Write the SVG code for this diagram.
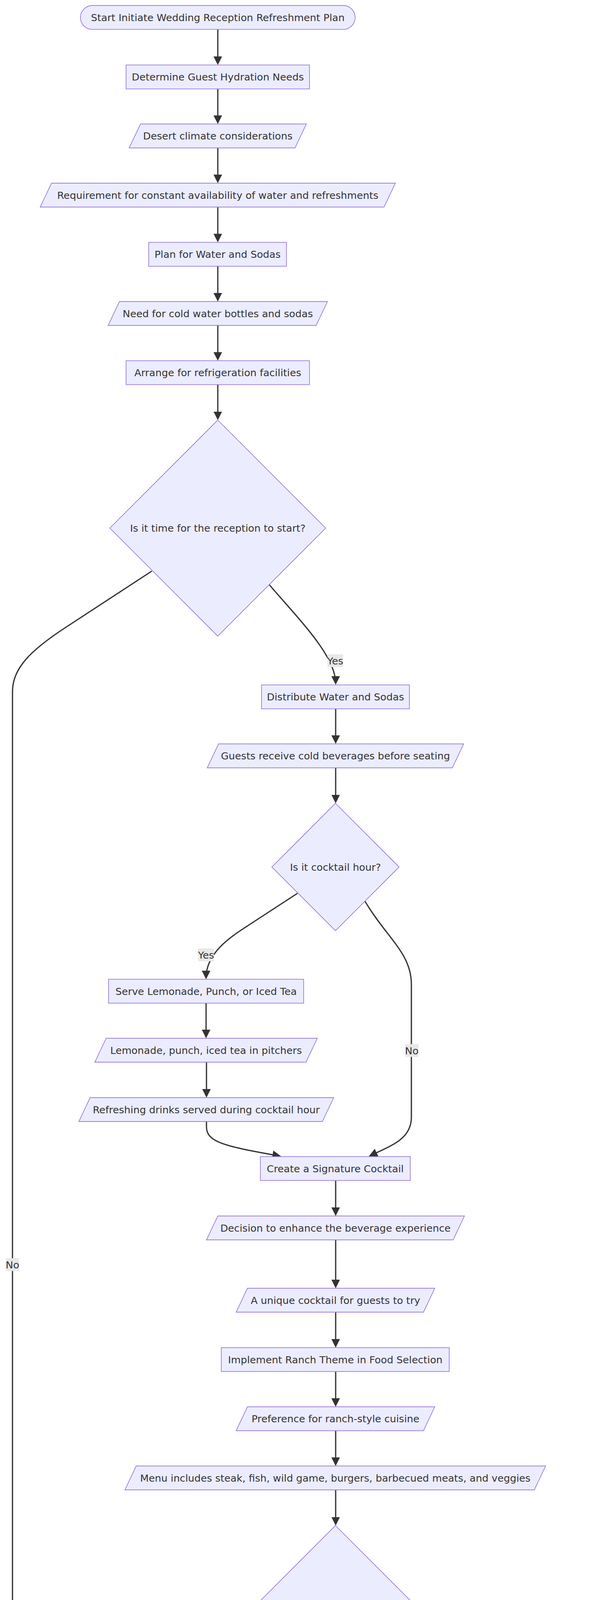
<svg xmlns="http://www.w3.org/2000/svg" width="1568" height="6904" viewBox="0 0 1568 6904">
<style>
.n{fill:#ECECFF;stroke:#9370DB;stroke-width:1.6}
.t{font-family:"DejaVu Sans",Verdana,sans-serif;font-size:25.6px;fill:#333333;text-anchor:middle}
.e{fill:none;stroke:#333333;stroke-width:3.2;marker-end:url(#arr)}
.lb{fill:#e8e8e8}
</style>
<defs>
<marker id="arr" viewBox="0 0 10 10" refX="8.18" refY="5" markerWidth="22" markerHeight="22" markerUnits="userSpaceOnUse" orient="auto">
<path d="M0,0 L10,5 L0,10 z" fill="#333333"/>
</marker>
</defs>
<rect width="1568" height="6904" fill="#ffffff"/>

<g id="connectors">
<path class="e" d="M558,75.3 L558,162.4"/>
<path class="e" d="M558,227.6 L558,313.4"/>
<path class="e" d="M558,378.6 L558,464.9"/>
<path class="e" d="M558,530.1 L558,616.4"/>
<path class="e" d="M558,681.6 L558,767.9"/>
<path class="e" d="M558,833.1 L558,919.4"/>
<path class="e" d="M558,984.6 L558,1071.5"/>
<path class="e" d="M690,1497 C770,1590 860,1680 860,1749"/>
<path class="e" d="M389,1462 L167,1607 C80,1664 32,1710 32,1770 L32,4965 C32,5040 120,5055 341,5089.4"/>
<path class="e" d="M860,1814.6 L860,1900.4"/>
<path class="e" d="M860,1965.6 L860,2052.5"/>
<path class="e" d="M762,2287 L630,2373 C590,2399 528,2440 528,2502.9"/>
<path class="e" d="M935,2307 C990,2400 1054,2440 1054,2520 L1054,2860 C1054,2915 1005,2932 948.6,2958.3"/>
<path class="e" d="M528,2568.1 L528,2653.9"/>
<path class="e" d="M529,2719.1 L529,2805.9"/>
<path class="e" d="M529,2871.1 L529,2885 C529,2925 580,2935 716,2959.3"/>
<path class="e" d="M860,3022.1 L860,3108.9"/>
<path class="e" d="M860,3174.1 L860,3293.9"/>
<path class="e" d="M860,3359.1 L860,3445.9"/>
<path class="e" d="M860,3511.1 L860,3597.4"/>
<path class="e" d="M860,3662.6 L860,3748.9"/>
<path class="e" d="M860,3814.1 L860,3901.5"/>
<path class="e" d="M711,4362 L600,4480 C560,4523 508,4570 508,4631.4"/>
<path class="e" d="M1008,4362 L1120,4480 C1160,4523 1211,4570 1211,4631.4"/>
<path class="e" d="M1211,4696.6 L1211,4782.4"/>
<path class="e" d="M1211,4847.6 L1211,4933.7"/>
<path class="e" d="M1211,4998.9 L1211,5005 C1211,5050 1100,5060 829,5089.6"/>
<path class="e" d="M558,5151.6 L558,5237.9"/>
<path class="e" d="M558,5303.1 L558,5389.4"/>
<path class="e" d="M558,5454.6 L558,5540.9"/>
<path class="e" d="M558,5606.1 L558,5692.4"/>
<path class="e" d="M558,5757.6 L558,5843.9"/>
<path class="e" d="M558,5909.1 L558,5995.4"/>
<path class="e" d="M558,6060.6 L558,6146.9"/>
<path class="e" d="M558,6212.1 L558,6298.4"/>
<path class="e" d="M558,6363.6 L558,6449.9"/>
<path class="e" d="M558,6515.1 L558,6601.9"/>
<path class="e" d="M558,6667.1 L558,6753.4"/>
</g>

<g id="edge-labels">
<g id="lbl-d1-yes"><rect class="lb" x="839" y="1675" width="40" height="32.7"/><text class="t" x="859" y="1700.5">Yes</text></g>
<g id="lbl-d1-no"><rect class="lb" x="15" y="3221" width="34" height="32.7"/><text class="t" x="32" y="3246.5">No</text></g>
<g id="lbl-d2-yes"><rect class="lb" x="508" y="2428" width="40" height="32.7"/><text class="t" x="528" y="2453.5">Yes</text></g>
<g id="lbl-d2-no"><rect class="lb" x="1038" y="2673" width="34" height="32.7"/><text class="t" x="1055" y="2698.5">No</text></g>
<g id="lbl-d3-no"><rect class="lb" x="491" y="4558" width="34" height="32.7"/><text class="t" x="508" y="4583.5">No</text></g>
<g id="lbl-d3-yes"><rect class="lb" x="1190" y="4558" width="40" height="32.7"/><text class="t" x="1210" y="4583.5">Yes</text></g>
</g>

<g id="start"><rect class="n" x="206" y="14.1" width="704" height="61.2" rx="30.6" ry="30.6"/><text class="t" x="558" y="53.7">Start Initiate Wedding Reception Refreshment Plan</text></g>
<g id="determine"><rect class="n" x="323" y="166.4" width="470" height="61.2"/><text class="t" x="558" y="206">Determine Guest Hydration Needs</text></g>
<g id="desert"><polygon class="n" points="331,378.6 360,317.4 785,317.4 756,378.6"/><text class="t" x="558" y="357">Desert climate considerations</text></g>
<g id="requirement"><polygon class="n" points="103,530.1 132,468.9 1013,468.9 984,530.1"/><text class="t" x="558" y="508.5">Requirement for constant availability of water and refreshments</text></g>
<g id="planWater"><rect class="n" x="381" y="620.4" width="353" height="61.2"/><text class="t" x="557.5" y="660">Plan for Water and Sodas</text></g>
<g id="needCold"><polygon class="n" points="277,833.1 306,771.9 839,771.9 810,833.1"/><text class="t" x="558" y="811.5">Need for cold water bottles and sodas</text></g>
<g id="arrange"><rect class="n" x="323" y="923.4" width="470" height="61.2"/><text class="t" x="558" y="963">Arrange for refrigeration facilities</text></g>
<g id="d1"><polygon class="n" points="558,1075.5 834.5,1352 558,1628.5 281.5,1352"/><text class="t" x="558" y="1361">Is it time for the reception to start?</text></g>
<g id="distribute"><rect class="n" x="670" y="1753.4" width="379" height="61.2"/><text class="t" x="859.5" y="1793">Distribute Water and Sodas</text></g>
<g id="guests"><polygon class="n" points="531,1965.6 560,1904.4 1188,1904.4 1159,1965.6"/><text class="t" x="859.5" y="1944">Guests receive cold beverages before seating</text></g>
<g id="d2"><polygon class="n" points="859.5,2056.5 1022.5,2219.5 859.5,2382.5 696.5,2219.5"/><text class="t" x="859.5" y="2228.5">Is it cocktail hour?</text></g>
<g id="serve"><rect class="n" x="278" y="2506.9" width="500" height="61.2"/><text class="t" x="528" y="2546.5">Serve Lemonade, Punch, or Iced Tea</text></g>
<g id="lemonade"><polygon class="n" points="243,2719.1 272,2657.9 813,2657.9 784,2719.1"/><text class="t" x="528" y="2697.5">Lemonade, punch, iced tea in pitchers</text></g>
<g id="refreshing"><polygon class="n" points="202,2871.1 231,2809.9 855,2809.9 826,2871.1"/><text class="t" x="528.5" y="2849.5">Refreshing drinks served during cocktail hour</text></g>
<g id="createSig"><rect class="n" x="667" y="2960.9" width="384" height="61.2"/><text class="t" x="859" y="3000.5">Create a Signature Cocktail</text></g>
<g id="decEnhance"><polygon class="n" points="529,3174.1 558,3112.9 1190,3112.9 1161,3174.1"/><text class="t" x="859.5" y="3152.5">Decision to enhance the beverage experience</text></g>
<g id="unique"><polygon class="n" points="605,3359.1 634,3297.9 1114,3297.9 1085,3359.1"/><text class="t" x="859.5" y="3337.5">A unique cocktail for guests to try</text></g>
<g id="implement"><rect class="n" x="567" y="3449.9" width="584" height="61.2"/><text class="t" x="859" y="3489.5">Implement Ranch Theme in Food Selection</text></g>
<g id="preference"><polygon class="n" points="605,3662.6 634,3601.4 1114,3601.4 1085,3662.6"/><text class="t" x="859.5" y="3641">Preference for ranch-style cuisine</text></g>
<g id="menu"><polygon class="n" points="320,3814.1 349,3752.9 1398,3752.9 1369,3814.1"/><text class="t" x="859" y="3792.5">Menu includes steak, fish, wild game, burgers, barbecued meats, and veggies</text></g>
<g id="d3"><polygon class="n" points="859.5,3905.5 1162,4208 859.5,4510.5 557,4208"/><text class="t" x="859.5" y="4217">Is a casual dining experience preferred?</text></g>
<g id="endMaintain"><rect class="n" x="222" y="4635.4" width="571" height="61.2" rx="30.6" ry="30.6"/><text class="t" x="507.5" y="4675">End Maintain a more formal dining menu</text></g>
<g id="opt"><rect class="n" x="884" y="4635.4" width="653" height="61.2"/><text class="t" x="1210.5" y="4675">Opt for Burgers or Barbecued Meats and Veggies</text></g>
<g id="casual"><polygon class="n" points="1040,4847.6 1069,4786.4 1382,4786.4 1353,4847.6"/><text class="t" x="1211" y="4826">A casual dining menu</text></g>
<g id="planDesserts"><rect class="n" x="1088" y="4937.7" width="246" height="61.2"/><text class="t" x="1211" y="4977.3">Plan for Desserts</text></g>
<g id="deviate"><polygon class="n" points="198,5151.6 227,5090.4 918,5090.4 889,5151.6"/><text class="t" x="558" y="5130">Decision to deviate from traditional wedding cake</text></g>
<g id="assortment"><polygon class="n" points="208,5303.1 237,5241.9 908,5241.9 879,5303.1"/><text class="t" x="558" y="5281.5">Assortment of homemade pies from local bakery</text></g>
<g id="offer"><rect class="n" x="364" y="5393.4" width="387" height="61.2"/><text class="t" x="557.5" y="5433">Offer Midnight Snack Tables</text></g>
<g id="increasing"><polygon class="n" points="241,5606.1 270,5544.9 875,5544.9 846,5606.1"/><text class="t" x="558" y="5584.5">Increasing trend for additional food options</text></g>
<g id="availability"><polygon class="n" points="155,5757.6 184,5696.4 961,5696.4 932,5757.6"/><text class="t" x="558" y="5736">Availability of appetizers and snacks later in the evening</text></g>
<g id="giveSnacks"><rect class="n" x="331" y="5847.9" width="454" height="61.2"/><text class="t" x="558" y="5887.5">Give Snacks a Southwestern Feel</text></g>
<g id="selection"><polygon class="n" points="328,6060.6 357,5999.4 787,5999.4 758,6060.6"/><text class="t" x="557.5" y="6039">Selection of Tex-Mex favorites</text></g>
<g id="nachos"><polygon class="n" points="243,6212.1 272,6150.9 873,6150.9 844,6212.1"/><text class="t" x="558" y="6190.5">Nachos, tacos, quesadillas as snack options</text></g>
<g id="createTaco"><rect class="n" x="430" y="6302.4" width="256" height="61.2"/><text class="t" x="558" y="6342">Create a Taco Bar</text></g>
<g id="desire"><polygon class="n" points="282,6515.1 311,6453.9 833,6453.9 804,6515.1"/><text class="t" x="557.5" y="6493.5">Desire for an interactive food station</text></g>
<g id="tacoBar"><polygon class="n" points="70,6667.1 99,6605.9 1046,6605.9 1017,6667.1"/><text class="t" x="558" y="6645.5">A taco bar where guests can customize chicken, beef, or veggie tacos</text></g>
<g id="endFinalize"><rect class="n" x="152" y="6757.4" width="811" height="61.2" rx="30.6" ry="30.6"/><text class="t" x="557.5" y="6797">End Finalize Wedding Reception Food and Beverage System</text></g>
</svg>
